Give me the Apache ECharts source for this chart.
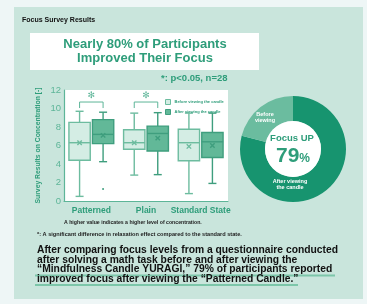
<!DOCTYPE html>
<html>
<head>
<meta charset="utf-8">
<script src="https://cdn.jsdelivr.net/npm/echarts@6/dist/echarts.min.js"></script>
<style>
  html, body { margin: 0; padding: 0; background: #eef6f6; }
  #chart { width: 367px; height: 304px; }
</style>
</head>
<body>
<div id="chart"></div>
<script>
// data
const categories = ['Patterned', 'Plain', 'Standard State'];
const seriesNames = ['Before viewing the candle', 'After viewing the candle'];
// [min, Q1, median, Q3, max, mean]
const beforeStats = [
  [0.5, 4.4, 6.3, 8.5, 9.7, 6.3],
  [2.8, 5.6, 6.3, 7.7, 9.5, 6.3],
  [0.8, 4.35, 6.3, 7.75, 9.5, 5.9]
];
const afterStats = [
  [4.25, 6.2, 7.2, 8.8, 9.6, 7.1],
  [2.85, 5.4, 7.3, 8.1, 9.55, 6.8],
  [1.9, 4.7, 6.4, 7.4, 9.5, 6.0]
];
const afterOutliers = [[0, 1.3]];
// significant pairs: [category, leg bottom, bracket top, asterisk]
const sigBrackets = [[0, 10.05, 10.7, 11.35], [1, 10.05, 10.7, 11.35]];
const yMin = 0, yMax = 12, yStep = 2;
const donutNames = ['After viewing the candle', 'Before viewing'];
const donutValues = [79, 21];

const TEAL = '#2e9d7a';
const LIGHT_TEAL = '#5db598';
const boxColors = [
  { fill: '#d4ede4', stroke: '#6dbc9f' },
  { fill: '#62b898', stroke: '#3f9e7e' }
];

let chart = echarts.init(document.getElementById('chart'));

// box + whiskers + mean, side = -1 before / +1 after
function boxRender(side, col) {
  return function (params, api) {
    let i = api.value(0);
    let band = api.size([1, 0])[0];
    let w = band * 0.39;
    let x = api.coord([i, 0])[0] + side * band * 0.215;
    let y = (k) => api.coord([i, api.value(k)])[1];
    let lw = 1.4;
    let line = (x1, y1, x2, y2) => ({
      type: 'line', shape: { x1, y1, x2, y2 },
      style: { stroke: col.stroke, lineWidth: lw }
    });
    let ym = y(6);
    return {
      type: 'group',
      children: [
        line(x, y(5), x, y(4)),
        line(x, y(2), x, y(1)),
        line(x - 4, y(5), x + 4, y(5)),
        line(x - 4, y(1), x + 4, y(1)),
        {
          type: 'rect',
          shape: { x: x - w / 2, y: y(4), width: w, height: y(2) - y(4) },
          style: { fill: col.fill, stroke: col.stroke, lineWidth: lw }
        },
        line(x - w / 2, y(3), x + w / 2, y(3)),
        line(x - 2.2, ym - 2.2, x + 2.2, ym + 2.2),
        line(x - 2.2, ym + 2.2, x + 2.2, ym - 2.2)
      ]
    };
  };
}

function boxSeries(name, stats, side, col) {
  return {
    name: name,
    type: 'custom',
    data: stats.map((s, i) => [i].concat(s)),
    encode: { x: 0, y: [1, 2, 3, 4, 5] },
    itemStyle: { color: col.fill, borderColor: col.stroke },
    renderItem: boxRender(side, col),
    silent: true
  };
}

let option = {
  backgroundColor: '#eef6f6',
  animation: false,
  textStyle: { fontFamily: 'Liberation Sans' },
  grid: {
    left: 64, right: 139, top: 90, bottom: 103,
    show: true, backgroundColor: '#ffffff', borderWidth: 0
  },
  legend: {
    data: seriesNames.map((n, k) => ({
      name: n,
      itemStyle: { color: boxColors[k].fill, borderColor: boxColors[k].stroke, borderWidth: 1 }
    })),
    orient: 'vertical',
    left: 160, top: 94,
    icon: 'rect',
    itemWidth: 5, itemHeight: 5, itemGap: 4,
    textStyle: { fontSize: 4, color: TEAL, fontWeight: 'bold', padding: [0, 0, 0, -1] },
    selectedMode: false
  },
  xAxis: {
    type: 'category',
    data: categories,
    axisLine: { lineStyle: { color: LIGHT_TEAL, width: 1 } },
    axisTick: { show: false },
    axisLabel: { color: TEAL, fontWeight: 'bold', fontSize: 8.5, margin: 5, interval: 0 }
  },
  yAxis: {
    type: 'value',
    min: yMin, max: yMax, interval: yStep,
    name: 'Survey Results on Concentration [-]',
    nameLocation: 'middle',
    nameGap: 22,
    nameRotate: 90,
    nameTextStyle: { color: TEAL, fontWeight: 'bold', fontSize: 6.8 },
    axisLine: { show: true, lineStyle: { color: LIGHT_TEAL, width: 1.2 } },
    axisTick: { show: false },
    splitLine: { show: false },
    axisLabel: { color: LIGHT_TEAL, fontSize: 9.5, margin: 3 }
  },
  series: [
    boxSeries(seriesNames[0], beforeStats, -1, boxColors[0]),
    boxSeries(seriesNames[1], afterStats, 1, boxColors[1]),
    {
      type: 'custom',
      data: afterOutliers,
      silent: true,
      renderItem(params, api) {
        let band = api.size([1, 0])[0];
        let p = api.coord([api.value(0), api.value(1)]);
        return {
          type: 'circle',
          shape: { cx: p[0] + band * 0.215, cy: p[1], r: 1 },
          style: { fill: boxColors[1].stroke }
        };
      }
    },
    {
      type: 'custom',
      data: sigBrackets,
      silent: true,
      renderItem(params, api) {
        let i = api.value(0);
        let band = api.size([1, 0])[0];
        let cx = api.coord([i, 0])[0];
        let x1 = cx - band * 0.215, x2 = cx + band * 0.215;
        let yb = api.coord([i, api.value(1)])[1];
        let yt = api.coord([i, api.value(2)])[1];
        let ya = api.coord([i, api.value(3)])[1];
        return {
          type: 'group',
          children: [
            {
              type: 'polyline',
              shape: { points: [[x1, yb], [x1, yt], [x2, yt], [x2, yb]] },
              style: { stroke: LIGHT_TEAL, lineWidth: 1, fill: null }
            },
            {
              type: 'text',
              style: {
                text: '✻', x: cx, y: ya, align: 'center', verticalAlign: 'middle',
                fill: LIGHT_TEAL, fontSize: 9, fontFamily: 'DejaVu Sans'
              }
            }
          ]
        };
      }
    },
    {
      type: 'pie',
      center: [293, 149],
      radius: [28, 53],
      startAngle: 90,
      clockwise: true,
      silent: true,
      label: { show: false },
      labelLine: { show: false },
      data: donutNames.map((n, k) => ({
        name: n, value: donutValues[k],
        itemStyle: { color: k === 0 ? '#17946f' : '#6bbc9f' }
      }))
    }
  ],
  graphic: [
    { type: 'rect', z: -100, shape: { x: 14, y: 7, width: 349, height: 292 }, style: { fill: '#c9e5dc' } },
    { type: 'text', x: 22, y: 20, style: { text: 'Focus Survey Results', fill: '#111', fontSize: 7, fontWeight: 'bold', verticalAlign: 'middle', fontFamily: 'Liberation Sans' } },
    { type: 'rect', shape: { x: 30, y: 33, width: 229, height: 37 }, style: { fill: '#ffffff' } },
    {
      type: 'text', x: 145, y: 51.5,
      style: {
        text: 'Nearly 80% of Participants\nImproved Their Focus', align: 'center', verticalAlign: 'middle',
        fill: TEAL, fontSize: 13, lineHeight: 14.5, fontWeight: 'bold', fontFamily: 'Liberation Sans'
      }
    },
    { type: 'text', x: 161, y: 78, style: { text: '*: p<0.05, n=28', fill: TEAL, fontSize: 9.5, fontWeight: 'bold', verticalAlign: 'middle', fontFamily: 'Liberation Sans' } },
    { type: 'circle', z: 50, shape: { cx: 293, cy: 149, r: 28 }, style: { fill: '#ffffff' } },
    { type: 'text', z: 60, x: 292, y: 138, style: { text: 'Focus UP', fill: TEAL, fontSize: 9.5, fontWeight: 'bold', align: 'center', verticalAlign: 'middle', fontFamily: 'Liberation Sans' } },
    {
      type: 'text', z: 60, x: 293, y: 156,
      style: {
        text: '{a|' + donutValues[0] + '}{b|%}', align: 'center', verticalAlign: 'middle',
        rich: {
          a: { fill: TEAL, fontSize: 21, fontWeight: 'bold', fontFamily: 'Liberation Sans' },
          b: { fill: TEAL, fontSize: 12, fontWeight: 'bold', fontFamily: 'Liberation Sans', padding: [5, 0, 0, 0] }
        }
      }
    },
    { type: 'text', z: 60, x: 265, y: 117, style: { text: 'Before\nviewing', fill: '#fff', fontSize: 5.5, lineHeight: 6, fontWeight: 'bold', align: 'center', verticalAlign: 'middle', fontFamily: 'Liberation Sans' } },
    { type: 'text', z: 60, x: 290, y: 184, style: { text: 'After viewing\nthe candle', fill: '#fff', fontSize: 5.5, lineHeight: 6, fontWeight: 'bold', align: 'center', verticalAlign: 'middle', fontFamily: 'Liberation Sans' } },
    { type: 'text', x: 64, y: 223, style: { text: 'A higher value indicates a higher level of concentration.', fill: '#222', fontSize: 5.2, fontWeight: 'bold', verticalAlign: 'middle', fontFamily: 'Liberation Sans' } },
    { type: 'text', x: 37, y: 234, style: { text: '*: A significant difference in relaxation effect compared to the standard state.', fill: '#222', fontSize: 5.6, fontWeight: 'bold', verticalAlign: 'middle', fontFamily: 'Liberation Sans' } },
    { type: 'rect', shape: { x: 35, y: 274.5, width: 300, height: 2 }, style: { fill: '#7cc6a9' } },
    { type: 'rect', shape: { x: 35, y: 284, width: 263, height: 2 }, style: { fill: '#7cc6a9' } },
    {
      type: 'text', z: 10, x: 37, y: 245.5,
      style: {
        text: 'After comparing focus levels from a questionnaire conducted\nafter solving a math task before and after viewing the\n\u201cMindfulness Candle YURAGI,\u201d 79% of participants reported\nimproved focus after viewing the \u201cPatterned Candle.\u201d',
        fill: '#111', fontSize: 10.3, lineHeight: 9.6, fontWeight: 'bold', verticalAlign: 'top', fontFamily: 'Liberation Sans'
      }
    }
  ]
};

chart.setOption(option);
</script>
</body>
</html>
